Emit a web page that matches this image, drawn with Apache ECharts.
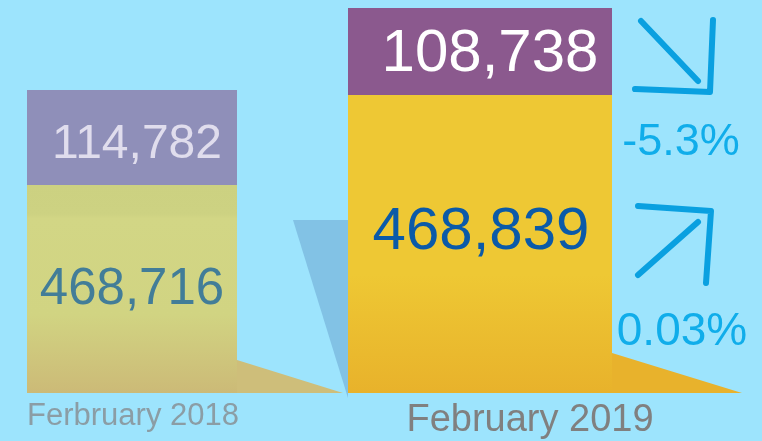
<!DOCTYPE html>
<html>
<head>
<meta charset="utf-8">
<script src="https://cdn.jsdelivr.net/npm/echarts@6/dist/echarts.min.js"></script>
<style>
  html, body { margin: 0; padding: 0; background: #9DE4FD; }
  #chart { width: 762px; height: 441px; }
</style>
</head>
<body>
<div id="chart"></div>
<script>
// Period names shown under each column
const periods = ['Ferbruary 2018', 'February 2019'];
// Lower (yellow) segment of each column
const baseValues = [468716, 468839];
// Upper (purple) segment of each column
const topValues = [114782, 108738];

const FONT = '"Liberation Sans", Arial, sans-serif';
const fmt = v => v.toLocaleString('en-US');
const pct = (a, b) => {
  const p = (b - a) / a * 100;
  return (Math.abs(p) < 1 ? p.toFixed(2) : p.toFixed(1)) + '%';
};
const topChange = pct(topValues[0], topValues[1]);
const baseChange = pct(baseValues[0], baseValues[1]);

const chart = echarts.init(document.getElementById('chart'));

const grad = stops => new echarts.graphic.LinearGradient(0, 0, 0, 1,
  stops.map(([offset, color]) => ({ offset, color })));

chart.setOption({
  backgroundColor: '#9DE4FD',
  animation: false,
  grid: [
    { left: 27, width: 210, top: 90, bottom: 48 },
    { left: 348, width: 264, top: 8, bottom: 48 }
  ],
  xAxis: [0, 1].map(i => ({
    type: 'category',
    gridIndex: i,
    data: [periods[i]],
    axisLine: { show: false },
    axisTick: { show: false },
    axisLabel: {
      margin: i === 0 ? 8 : 9,
      fontFamily: FONT,
      fontSize: i === 0 ? 31 : 38,
      color: i === 0 ? '#8B9DA5' : '#808080',
      padding: i === 0 ? [0, 0, 0, 2] : [0, 0, 0, 100]
    }
  })),
  // Each column gets its own value scale with a raised floor
  yAxis: [
    { type: 'value', gridIndex: 0, show: false, min: 217400, max: baseValues[0] + topValues[0] },
    { type: 'value', gridIndex: 1, show: false, min: 96380, max: baseValues[1] + topValues[1] }
  ],
  graphic: [
    // drop shadows trailing off each column
    { type: 'polygon', z: 0, shape: { points: [[237, 360], [343, 393], [237, 393]] }, style: { fill: '#CEBE7A' } },
    { type: 'polygon', z: 0, shape: { points: [[293, 220], [348, 220], [348, 398]] }, style: { fill: '#82C2E5' } },
    { type: 'polygon', z: 0, shape: { points: [[612, 353], [742, 393], [612, 393]] }, style: { fill: '#E8B22C' } },
    // trend arrows
    { type: 'polyline', shape: { points: [[641, 21], [698, 81]] }, style: { stroke: '#0AA0E0', lineWidth: 6, lineCap: 'round' } },
    { type: 'polyline', shape: { points: [[635, 89], [710, 92], [713, 20]] }, style: { stroke: '#0AA0E0', lineWidth: 6, lineCap: 'round', lineJoin: 'round', fill: null } },
    { type: 'polyline', shape: { points: [[638, 275], [698, 222]] }, style: { stroke: '#0AA0E0', lineWidth: 6, lineCap: 'round' } },
    { type: 'polyline', shape: { points: [[638, 206], [711, 211], [706, 283]] }, style: { stroke: '#0AA0E0', lineWidth: 6, lineCap: 'round', lineJoin: 'round', fill: null } },
    { type: 'text', x: 681, y: 143, style: { text: topChange, fontFamily: FONT, fontSize: 45, fill: '#10ADEA', align: 'center', verticalAlign: 'middle' } },
    { type: 'text', x: 682, y: 332, style: { text: baseChange, fontFamily: FONT, fontSize: 46, fill: '#10ADEA', align: 'center', verticalAlign: 'middle' } }
  ],
  series: [
    {
      type: 'bar', xAxisIndex: 0, yAxisIndex: 0, stack: 'y2018', barWidth: '100%',
      data: [baseValues[0]],
      itemStyle: { color: grad([[0, '#CCD181'], [0.14, '#CDD282'], [0.16, '#D2D685'], [0.62, '#D1D482'], [1, '#CCBA77']]) },
      label: { show: true, position: 'inside', offset: [0, 1], formatter: p => fmt(p.value),
        fontFamily: FONT, fontSize: 51, color: '#427D98' }
    },
    {
      type: 'bar', xAxisIndex: 0, yAxisIndex: 0, stack: 'y2018', barWidth: '100%',
      data: [topValues[0]],
      itemStyle: { color: '#8F8FB9' },
      label: { show: true, position: 'inside', offset: [5, 7], formatter: p => fmt(p.value),
        fontFamily: FONT, fontSize: 48, color: '#E0DDED' }
    },
    {
      type: 'bar', xAxisIndex: 1, yAxisIndex: 1, stack: 'y2019', barWidth: '100%',
      data: [baseValues[1]],
      itemStyle: { color: grad([[0, '#EEC834'], [0.6, '#EEC834'], [1, '#E8B22B']]) },
      label: { show: true, position: 'inside', offset: [1, -12], formatter: p => fmt(p.value),
        fontFamily: FONT, fontSize: 60, color: '#0B5AA8' }
    },
    {
      type: 'bar', xAxisIndex: 1, yAxisIndex: 1, stack: 'y2019', barWidth: '100%',
      data: [topValues[1]],
      itemStyle: { color: '#8B598E' },
      label: { show: true, position: 'inside', offset: [10, 3], formatter: p => fmt(p.value),
        fontFamily: FONT, fontSize: 60, color: '#FFFFFF' }
    }
  ]
});
</script>
</body>
</html>
